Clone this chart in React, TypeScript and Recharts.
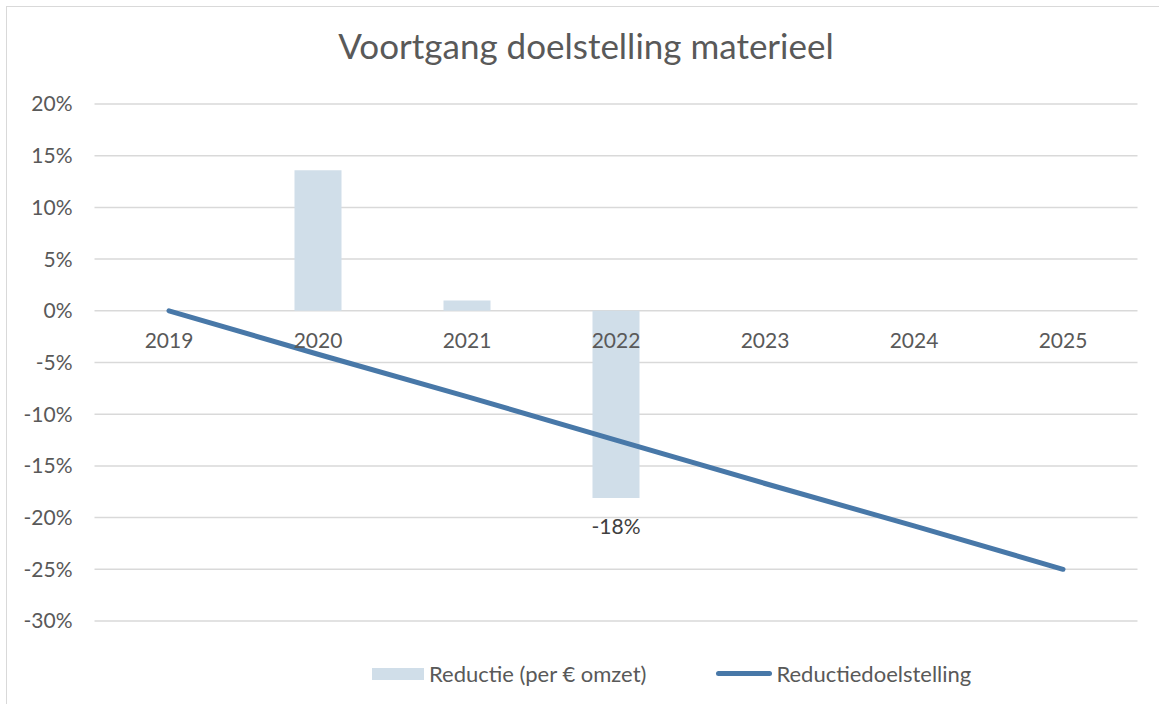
import { Bar, CartesianGrid, ComposedChart, LabelList, Legend, Line, XAxis, YAxis } from "recharts";

const years = ["2019", "2020", "2021", "2022", "2023", "2024", "2025"];
const reductie = [null, 13.6, 1.0, -18.1, null, null, null];
const doelstelling = [0, -4.2, -8.3, -12.5, -16.7, -20.8, -25];
const barLabels = ["", "", "", "-18%", "", "", ""];
const yTicks = [20, 15, 10, 5, 0, -5, -10, -15, -20, -25, -30];

const data = years.map((year, i) => ({
  year,
  reductie: reductie[i],
  doelstelling: doelstelling[i],
  label: barLabels[i]
}));

const W = 1159;
const H = 704;
const TOP = 104;
const BOTTOM = 621;
const LEFT = 94.5;
const RIGHT = 1137.5;
const FONT = "Lato, 'Open Sans', sans-serif";
const TEXT = "#595959";
const BAR = "#d0dee9";
const LINE = "#4878a8";

const zeroY = TOP + ((20 - 0) / 50) * (BOTTOM - TOP);

function YearTick(props: any) {
  const { x, payload } = props;
  return (
    <text x={x} y={zeroY + 30} textAnchor="middle" dy="0.36em" fill={TEXT} fontSize={21} fontFamily={FONT}>
      {payload.value}
    </text>
  );
}

function BarLabel(props: any) {
  const { x, y, width, height, value } = props;
  if (!value) return null;
  const bottom = Math.max(y, y + height);
  return (
    <text x={x + width / 2} y={bottom + 28} textAnchor="middle" dy="0.36em" fill="#404040" fontSize={21} fontFamily={FONT}>
      {value}
    </text>
  );
}

function LegendContent() {
  return (
    <div style={{ display: "flex", alignItems: "center", fontFamily: FONT, fontSize: 22, color: TEXT }}>
      <span style={{ display: "inline-block", width: 52, height: 12, background: BAR, marginRight: 5 }} />
      <span>Reductie (per € omzet)</span>
      <span style={{ display: "inline-block", width: 56, height: 5, borderRadius: 3, background: LINE, marginLeft: 70, marginRight: 4 }} />
      <span>Reductiedoelstelling</span>
    </div>
  );
}

export default function App() {
  return (
    <div style={{ position: "absolute", left: 0, top: 0, width: W, height: H, overflow: "hidden", background: "#fff" }}>
      <div style={{ position: "absolute", left: 6, top: 6, width: W + 20, height: H + 20, border: "1.5px solid #d9d9d9" }} />
      <div
        style={{
          position: "absolute",
          left: 0,
          width: 1172,
          top: 28,
          textAlign: "center",
          fontFamily: FONT,
          fontSize: 35,
          lineHeight: "35px",
          color: TEXT
        }}
      >
        Voortgang doelstelling materieel
      </div>
      <div style={{ position: "absolute", left: 0, top: 0 }}>
        <ComposedChart
          width={W}
          height={H}
          data={data}
          margin={{ top: TOP, right: W - RIGHT, left: 0, bottom: H - BOTTOM - 30 }}
        >
          <CartesianGrid vertical={false} stroke="#d9d9d9" strokeWidth={1.5} />
          <XAxis dataKey="year" height={30} axisLine={false} tickLine={false} tickSize={0} tick={<YearTick />} />
          <YAxis
            width={LEFT}
            domain={[-30, 20]}
            ticks={yTicks}
            axisLine={false}
            tickLine={false}
            tickSize={0}
            tickMargin={22}
            tickFormatter={(v: number) => `${v}%`}
            tick={{ fill: TEXT, fontSize: 21, fontFamily: FONT }}
          />
          <Bar dataKey="reductie" fill={BAR} barSize={47} isAnimationActive={false}>
            <LabelList dataKey="label" content={<BarLabel />} />
          </Bar>
          <Line
            dataKey="doelstelling"
            stroke={LINE}
            strokeWidth={5}
            strokeLinecap="round"
            dot={false}
            activeDot={false}
            isAnimationActive={false}
          />
          <Legend
            verticalAlign="middle"
            align="center"
            content={<LegendContent />}
            wrapperStyle={{ top: 660, left: 372, width: "auto" }}
          />
        </ComposedChart>
      </div>
    </div>
  );
}
